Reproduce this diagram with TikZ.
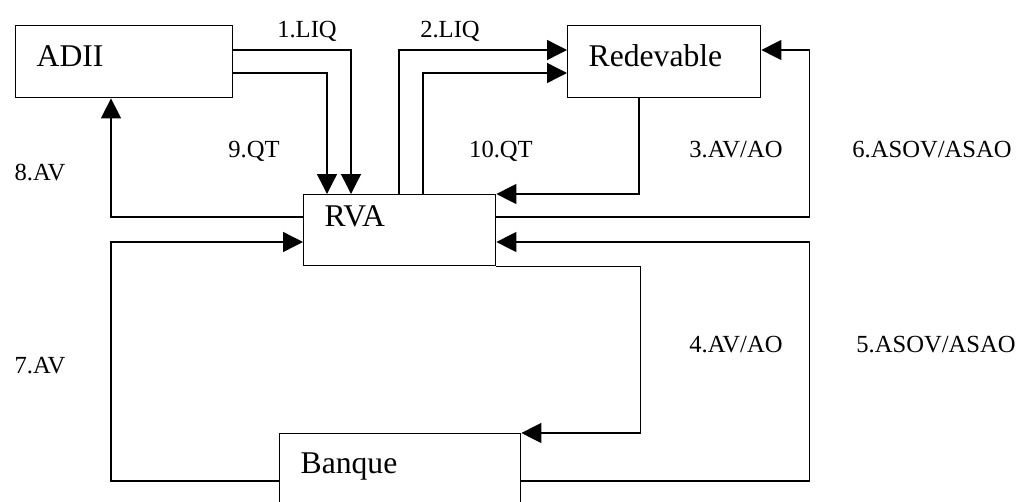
\documentclass[tikz,border=0pt]{standalone}
\usepackage{fontspec}
\setmainfont{Liberation Serif}
\usetikzlibrary{arrows.meta,calc}

\begin{document}
\begin{tikzpicture}[
x=0.02cm,y=-0.02cm,
box/.style={
  draw,
  line width=0.8pt,
  anchor=north west,
  inner xsep=0.42cm,
  inner ysep=0pt,
  align=left,
  font=\fontsize{18}{20}\selectfont
},
lbl/.style={
  anchor=base,
  inner sep=0pt,
  font=\fontsize{14}{16}\selectfont
},
flow/.style={
  line width=0.8pt,
  -{Triangle[length=0.4cm,width=0.4cm]}
}
]
\useasboundingbox (0,0) rectangle (1025,501);
\clip (0,0) rectangle (1025,501);

\node[box,text width=3.5cm,text height=0.82cm,text depth=0.62cm] 
  (adii) at (15,25) {ADII};
\node[box,text width=3.02cm,text height=0.82cm,text depth=0.62cm] 
  (redev) at (567,25) {Redevable};
\node[box,text width=3.0cm,text height=0.64cm,text depth=0.78cm] 
  (rva) at (303,194) {RVA};
\node[box,text width=3.98cm,text height=0.8cm,text depth=1.0cm] 
  (banque) at (279,433) {Banque};

% ADII <-> RVA
\draw[flow] ($(adii.north east)+(0,25)$) -| ($(rva.north west)+(48,0)$);
\draw[flow] ($(adii.north east)+(0,48)$) -| ($(rva.north west)+(24,0)$);
\draw[flow] ($(rva.north west)+(0,23)$) -| ($(adii.south west)+(96,0)$);

% RVA <-> Redevable
\draw[flow] ($(rva.north west)+(96,0)$) |- ($(redev.north west)+(0,25)$);
\draw[flow] ($(rva.north west)+(120,0)$) |- ($(redev.north west)+(0,48)$);
\draw[flow] ($(redev.south west)+(72,0)$) |- (rva.north east);
\draw[flow] ($(rva.north east)+(0,23)$) -- ++(313,0) |- ($(redev.north east)+(0,25)$);

% RVA <-> Banque
\draw[flow] (rva.south east) -- ++(144,0) |- (banque.north east);
\draw[flow] ($(banque.north east)+(0,48)$) -- ++(288,0) |- ($(rva.north east)+(0,48)$);
\draw[flow] ($(banque.north west)+(0,48)$) -- ++(-168,0) |- ($(rva.north west)+(0,48)$);

% labels
\node[lbl] (l1) at (307,37) {1.LIQ};
\node[lbl] (l2) at (450,37) {2.LIQ};
\node[lbl] (l3) at (736,157) {3.AV/AO};
\node[lbl] (l4) at (736,352) {4.AV/AO};
\node[lbl] (l5) at (936,352) {5.ASOV/ASAO};
\node[lbl] (l6) at (932,157) {6.ASOV/ASAO};
\node[lbl] (l7) at (40,373) {7.AV};
\node[lbl] (l8) at (40,180) {8.AV};
\node[lbl] (l9) at (254,157) {9.QT};
\node[lbl] (l10) at (501,157) {10.QT};
\end{tikzpicture}
\end{document}
